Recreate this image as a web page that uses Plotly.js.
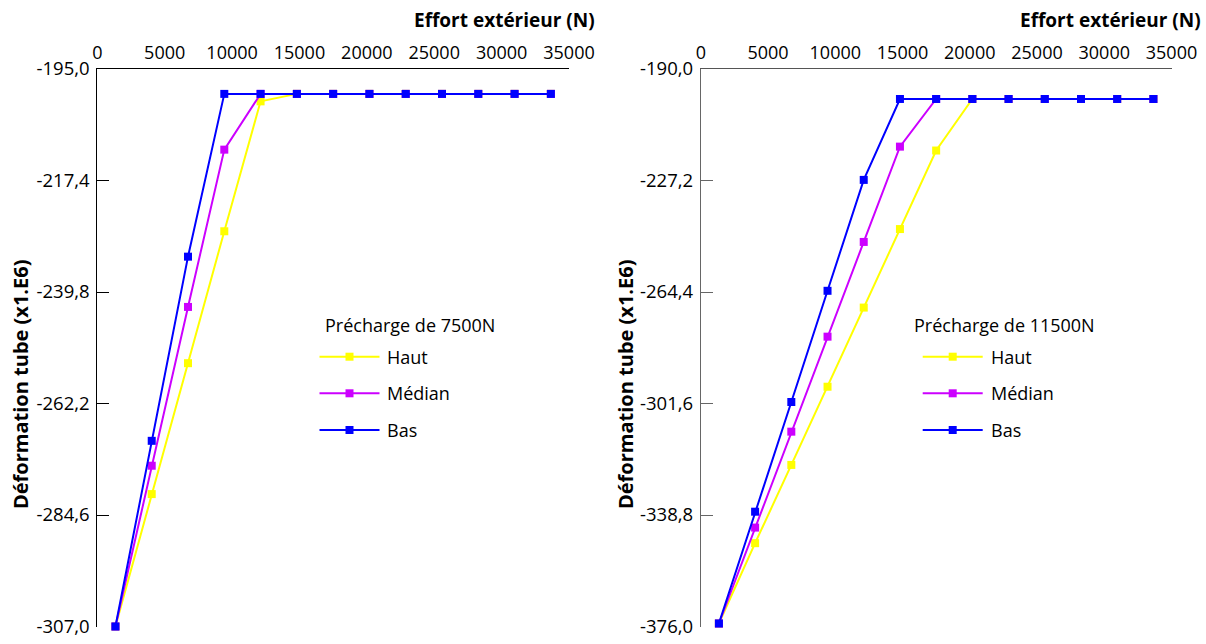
<!DOCTYPE html>
<html><head><meta charset="utf-8">
<script src="https://cdn.plot.ly/plotly-3.0.1.min.js"></script>
<style>html,body{margin:0;padding:0;background:#fff}#chart{width:1206px;height:644px}</style>
</head><body><div id="chart"></div>
<script>
// Effort extérieur (N) at each measurement step (13 steps)
var effortN = [1346, 4038, 6731, 9423, 12115, 14808, 17500, 20192, 22885, 25577, 28269, 30962, 33654];

// Précharge de 7500N
var haut7500   = [-307, -280.4, -254.1, -227.6, -201.5, -200, -200, -200, -200, -200, -200, -200, -200];
var median7500 = [-307, -274.7, -242.8, -211.2, -200, -200, -200, -200, -200, -200, -200, -200, -200];
var bas7500    = [-307, -269.7, -232.7, -200, -200, -200, -200, -200, -200, -200, -200, -200, -200];

// Précharge de 11500N
var haut11500   = [-375, -348.2, -322.1, -296.0, -269.6, -243.4, -217.2, -200, -200, -200, -200, -200, -200];
var median11500 = [-375, -343.0, -311.0, -279.3, -247.7, -215.9, -200, -200, -200, -200, -200, -200, -200];
var bas11500    = [-375, -337.7, -301.1, -264.0, -227.0, -200, -200, -200, -200, -200, -200, -200, -200];

var seriesNames = ['Haut', 'Médian', 'Bas'];
var seriesColors = ['#FFFF00', '#CC00FF', '#0000FF'];

var xTickVals = [0, 5000, 10000, 15000, 20000, 25000, 30000, 35000];
var xTickText = ['0', '5000', '10000', '15000', '20000', '25000', '30000', '35000'];
var xRange = [0, 35000];
var stepCount = 13;

var yTickValsL = [-307, -284.6, -262.2, -239.8, -217.4, -195];
var yTickTextL = ['-307,0', '-284,6', '-262,2', '-239,8', '-217,4', '-195,0'];
var yTickValsR = [-376, -338.8, -301.6, -264.4, -227.2, -190];
var yTickTextR = ['-376,0', '-338,8', '-301,6', '-264,4', '-227,2', '-190,0'];

var xTitleText = 'Effort extérieur (N)';
var yTitleText = 'Déformation tube (x1.E6)';
var legendTitleL = 'Précharge de 7500N';
var legendTitleR = 'Précharge de 11500N';

var FONT = '"Open Sans", "Noto Sans", sans-serif';
var W = 1206, H = 644;

function mkTraces(ys, xa, ya) {
  return ys.map(function (y, i) {
    return {
      type: 'scatter', mode: 'lines+markers', x: effortN, y: y,
      xaxis: xa, yaxis: ya, name: seriesNames[i], showlegend: false,
      line: {color: seriesColors[i], width: 2},
      marker: {symbol: 'square', size: 8, color: seriesColors[i]},
      cliponaxis: false, hoverinfo: 'x+y+name'
    };
  });
}

var traces = mkTraces([haut7500, median7500, bas7500], 'x', 'y')
  .concat(mkTraces([haut11500, median11500, bas11500], 'x2', 'y2'));

var domL = [97.3 / W, 569 / W];
var domR = [700.8 / W, 1171.5 / W];
var domY = [17.5 / H, 575 / H];

function labelAxis(dom, anchor, lc) {
  return {
    domain: dom, anchor: anchor, side: 'top', range: xRange, type: 'linear',
    tickmode: 'array', tickvals: xTickVals, ticktext: xTickText,
    ticks: '', showline: true, linecolor: lc, linewidth: 1, ticklabelstandoff: 2,
    showgrid: false, zeroline: false, fixedrange: true,
    tickfont: {family: FONT, size: 18, color: '#000'}
  };
}
function stepAxis(dom, anchor, over, lc) {
  return {
    domain: dom, anchor: anchor, overlaying: over, side: 'top', range: [0, stepCount],
    tickmode: 'linear', tick0: 0, dtick: 1, ticks: 'inside', ticklen: 13, tickcolor: lc, tickwidth: 1,
    showticklabels: false, showline: false, showgrid: false, zeroline: false, fixedrange: true
  };
}
function yAxis(dom, anchor, range, tv, tt, lc) {
  return {
    domain: dom, anchor: anchor, range: range, tickmode: 'array', tickvals: tv, ticktext: tt,
    ticks: 'inside', ticklen: 12, tickcolor: lc, tickwidth: 1, ticklabelstandoff: 3,
    showline: true, linecolor: lc, linewidth: 1, showgrid: false, zeroline: false, fixedrange: true,
    tickfont: {family: FONT, size: 18.5, color: '#000'}
  };
}

// Legend drawn in paper pixels: line sample, square marker, label
var shapes = [], annotations = [];
function px(x) { return x / W; }
function py(y) { return 1 - y / H; }
function addLegend(title, titleX, lineX0, lineX1, textX) {
  var rowY = [356.7, 393.3, 430];
  annotations.push({text: title, xref: 'paper', yref: 'paper', x: px(titleX), y: py(325),
    xanchor: 'left', yanchor: 'middle', showarrow: false, font: {family: FONT, size: 18, color: '#000'}});
  seriesNames.forEach(function (nm, i) {
    var yy = py(rowY[i]), xm = (lineX0 + lineX1) / 2;
    shapes.push({type: 'line', xref: 'paper', yref: 'paper', x0: px(lineX0), x1: px(lineX1), y0: yy, y1: yy,
      line: {color: seriesColors[i], width: 2}});
    shapes.push({type: 'rect', xref: 'paper', yref: 'paper', x0: px(xm - 4), x1: px(xm + 4),
      y0: py(rowY[i] + 4), y1: py(rowY[i] - 4), fillcolor: seriesColors[i], line: {width: 0}});
    annotations.push({text: nm, xref: 'paper', yref: 'paper', x: px(textX), y: yy,
      xanchor: 'left', yanchor: 'middle', showarrow: false, font: {family: FONT, size: 18, color: '#000'}});
  });
}
addLegend(legendTitleL, 323, 319.5, 379.5, 385);
addLegend(legendTitleR, 912, 922.7, 982.7, 988.5);

[597, 1203].forEach(function (xr) {
  annotations.push({text: '<b>' + xTitleText + '</b>', xref: 'paper', yref: 'paper', x: px(xr), y: py(20),
    xanchor: 'right', yanchor: 'middle', showarrow: false, font: {family: FONT, size: 19, color: '#000'}});
});
[20, 625].forEach(function (xc) {
  annotations.push({text: '<b>' + yTitleText + '</b>', xref: 'paper', yref: 'paper', x: px(xc), y: py(385),
    xanchor: 'center', yanchor: 'middle', textangle: -90, showarrow: false, font: {family: FONT, size: 20, color: '#000'}});
});

var layout = {
  width: W, height: H,
  margin: {l: 0, r: 0, t: 0, b: 0},
  paper_bgcolor: '#fff', plot_bgcolor: 'rgba(0,0,0,0)',
  showlegend: false,
  xaxis: labelAxis(domL, 'y', '#000'),
  xaxis3: stepAxis(domL, 'y', 'x', '#000'),
  yaxis: yAxis(domY, 'x', [-307, -195], yTickValsL, yTickTextL, '#000'),
  xaxis2: labelAxis(domR, 'y2', '#555'),
  xaxis4: stepAxis(domR, 'y2', 'x2', '#555'),
  yaxis2: yAxis(domY, 'x2', [-376, -190], yTickValsR, yTickTextR, '#666'),
  shapes: shapes,
  annotations: annotations
};

Plotly.newPlot('chart', traces, layout, {displayModeBar: false, staticPlot: true});
</script>
</body></html>
